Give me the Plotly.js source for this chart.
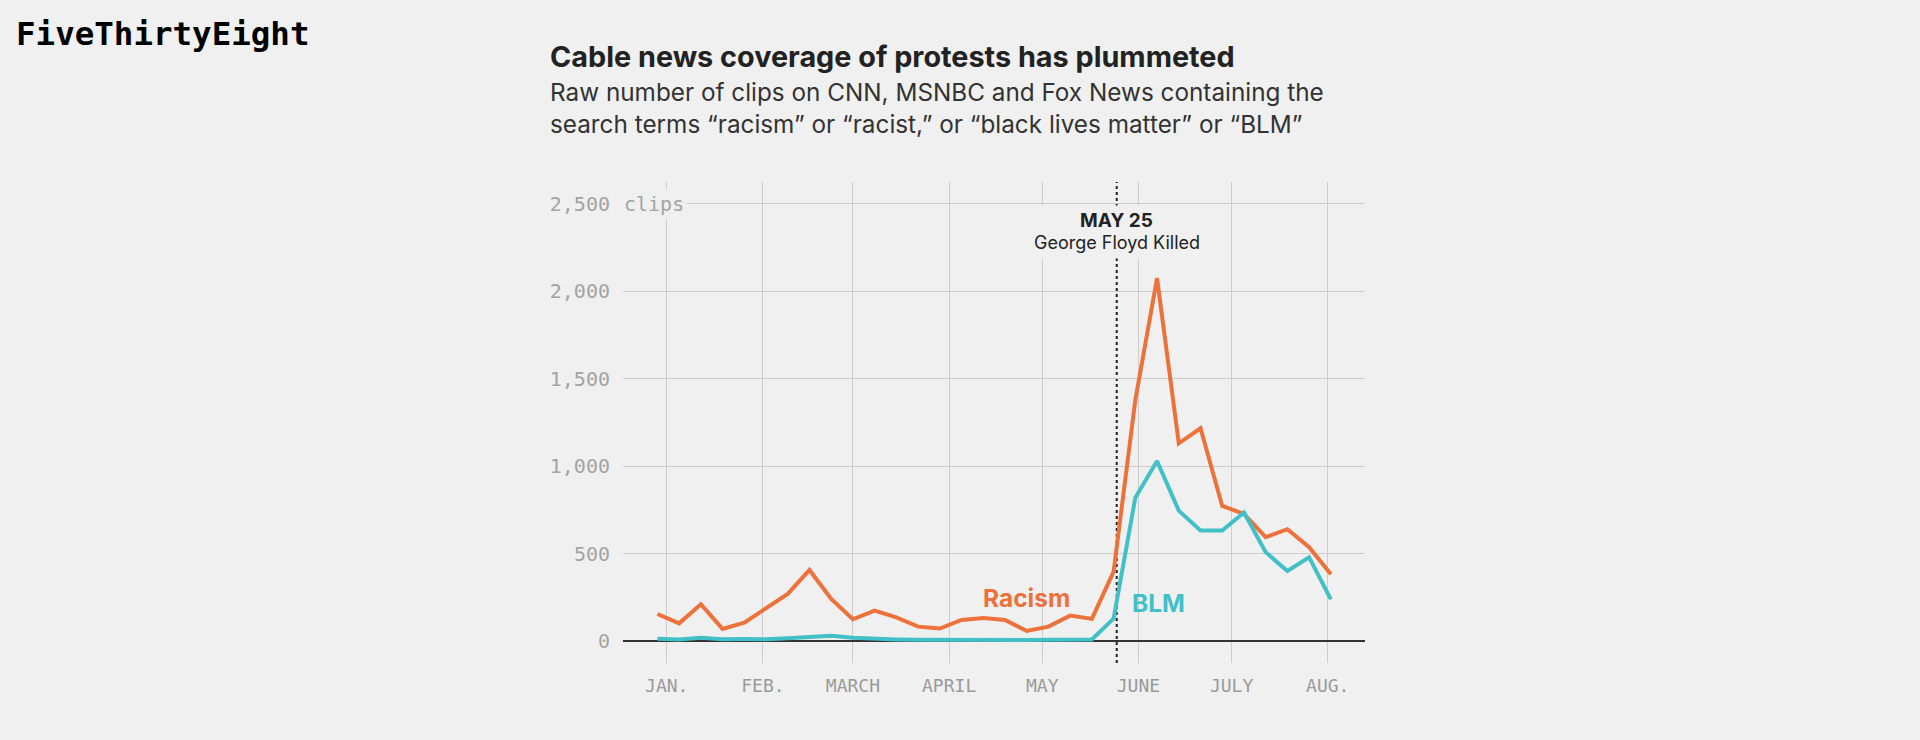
<!DOCTYPE html>
<html>
<head>
<meta charset="utf-8">
<script src="https://cdn.plot.ly/plotly-3.0.1.min.js"></script>
<style>
  html, body { margin: 0; padding: 0; background: #f0f0f0; }
  #chart { width: 1920px; height: 740px; }
</style>
</head>
<body>
<div id="chart"></div>
<script>
// ---- data (weekly counts of clips) ----
var weeks = ['2019-12-29','2020-01-05','2020-01-12','2020-01-19','2020-01-26',
             '2020-02-02','2020-02-09','2020-02-16','2020-02-23','2020-03-01',
             '2020-03-08','2020-03-15','2020-03-22','2020-03-29','2020-04-05',
             '2020-04-12','2020-04-19','2020-04-26','2020-05-03','2020-05-10',
             '2020-05-17','2020-05-24','2020-05-31','2020-06-07','2020-06-14',
             '2020-06-21','2020-06-28','2020-07-05','2020-07-12','2020-07-19',
             '2020-07-26','2020-08-02'];
var racism = [154, 101, 210, 69, 105, 187, 269, 406, 240, 124,
              173, 135, 82, 71, 120, 131, 120, 57, 82, 145,
              126, 396, 1378, 2074, 1130, 1216, 772, 726, 593, 639,
              536, 381];
var blm = [12, 8, 18, 10, 11, 10, 15, 20, 30, 18,
           12, 9, 7, 6, 6, 5, 5, 6, 7, 8,
           8, 128, 819, 1029, 745, 631, 631, 734, 507, 400,
           478, 238];
var monthTickVals = ['2020-01-01','2020-02-01','2020-03-01','2020-04-01',
                     '2020-05-01','2020-06-01','2020-07-01','2020-08-01'];
var monthTickText = ['JAN.','FEB.','MARCH','APRIL','MAY','JUNE','JULY','AUG.'];
var yTickVals = [0, 500, 1000, 1500, 2000, 2500];
var yTickText = ['0', '500', '1,000', '1,500', '2,000', '2,500'];
var eventDate = '2020-05-25';

// ---- layout helpers ----
var W = 1920, H = 740;
var M = {l: 623, r: 555, t: 182, b: 77};
var PW = W - M.l - M.r, PH = H - M.t - M.b;
function px(x) { return (x - M.l) / PW; }
function py(y) { return (H - M.b - y) / PH; }

var ORANGE = '#ed713a', TEAL = '#41c0c7', BG = '#f0f0f0';
var SANS = 'Inter, Roboto, sans-serif';

var traces = [
  {x: weeks, y: racism, type: 'scatter', mode: 'lines', name: 'Racism',
   line: {color: ORANGE, width: 4}, hoverinfo: 'skip'},
  {x: weeks, y: blm, type: 'scatter', mode: 'lines', name: 'BLM',
   line: {color: TEAL, width: 4}, hoverinfo: 'skip'}
];

var layout = {
  width: W, height: H,
  margin: M,
  paper_bgcolor: BG, plot_bgcolor: BG,
  showlegend: false,
  xaxis: {
    type: 'date',
    range: ['2019-12-17 22:00', '2020-08-13 00:00'],
    tickmode: 'array', tickvals: monthTickVals, ticktext: monthTickText,
    showgrid: true, gridcolor: '#cccccc', gridwidth: 1,
    zeroline: false, showline: false, ticks: '',
    ticklabelstandoff: 10,
    tickfont: {family: 'DejaVu Sans Mono', size: 18, color: '#9a9a9a'}
  },
  yaxis: {
    range: [-126, 2624],
    tickmode: 'array', tickvals: yTickVals, ticktext: yTickText,
    showgrid: true, gridcolor: '#cccccc', gridwidth: 1,
    zeroline: true, zerolinecolor: '#333333', zerolinewidth: 1.5,
    showline: false, ticks: '',
    ticklabelstandoff: 12,
    tickfont: {family: 'DejaVu Sans Mono', size: 20, color: '#a3a3a3'}
  },
  shapes: [
    {type: 'line', xref: 'x', yref: 'paper', x0: eventDate, x1: eventDate,
     y0: 0, y1: 1, layer: 'between',
     line: {color: '#222222', width: 2, dash: 'dot'}}
  ],
  annotations: [
    {xref: 'paper', yref: 'paper', x: px(14), y: py(34), xanchor: 'left', yanchor: 'middle',
     text: '<b>FiveThirtyEight</b>', showarrow: false,
     font: {family: 'DejaVu Sans Mono', size: 32.5, color: '#000000'}},
    {xref: 'paper', yref: 'paper', x: px(548), y: py(56), xanchor: 'left', yanchor: 'middle',
     text: '<b>Cable news coverage of protests has plummeted</b>', showarrow: false,
     font: {family: SANS, size: 28.8, color: '#222222'}},
    {xref: 'paper', yref: 'paper', x: px(548), y: py(108), xanchor: 'left', yanchor: 'middle',
     align: 'left',
     text: 'Raw number of clips on CNN, MSNBC and Fox News containing the<br>search terms \u201cracism\u201d or \u201cracist,\u201d or \u201cblack lives matter\u201d or \u201cBLM\u201d',
     showarrow: false,
     font: {family: SANS, size: 24.3, color: '#333333'}},
    {xref: 'paper', yref: 'y', x: px(621), y: 2500, xanchor: 'left', yanchor: 'middle',
     text: 'clips', showarrow: false, bgcolor: BG, borderpad: 2,
     font: {family: 'DejaVu Sans Mono', size: 20, color: '#a3a3a3'}},
    {xref: 'x', yref: 'paper', x: eventDate, y: py(232), xanchor: 'center', yanchor: 'middle',
     text: ' ', showarrow: false, bgcolor: BG, width: 180, height: 50,
     font: {family: SANS, size: 10, color: BG}},
    {xref: 'x', yref: 'paper', x: eventDate, y: py(221), xanchor: 'center', yanchor: 'middle',
     text: '<b>MAY 25</b>', showarrow: false,
     font: {family: SANS, size: 19, color: '#222222'}},
    {xref: 'x', yref: 'paper', x: eventDate, y: py(243), xanchor: 'center', yanchor: 'middle',
     text: 'George Floyd Killed', showarrow: false,
     font: {family: SANS, size: 18, color: '#222222'}},
    {xref: 'x', yref: 'y', x: '2020-04-26', y: 246, xanchor: 'center', yanchor: 'middle',
     text: '<b>Racism</b>', showarrow: false,
     font: {family: SANS, size: 24.5, color: ORANGE}},
    {xref: 'x', yref: 'y', x: '2020-06-07 14:00', y: 217, xanchor: 'center', yanchor: 'middle',
     text: '<b>BLM</b>', showarrow: false,
     font: {family: SANS, size: 24.5, color: TEAL}}
  ]
};

Plotly.newPlot('chart', traces, layout, {displayModeBar: false, staticPlot: true});
</script>
</body>
</html>
